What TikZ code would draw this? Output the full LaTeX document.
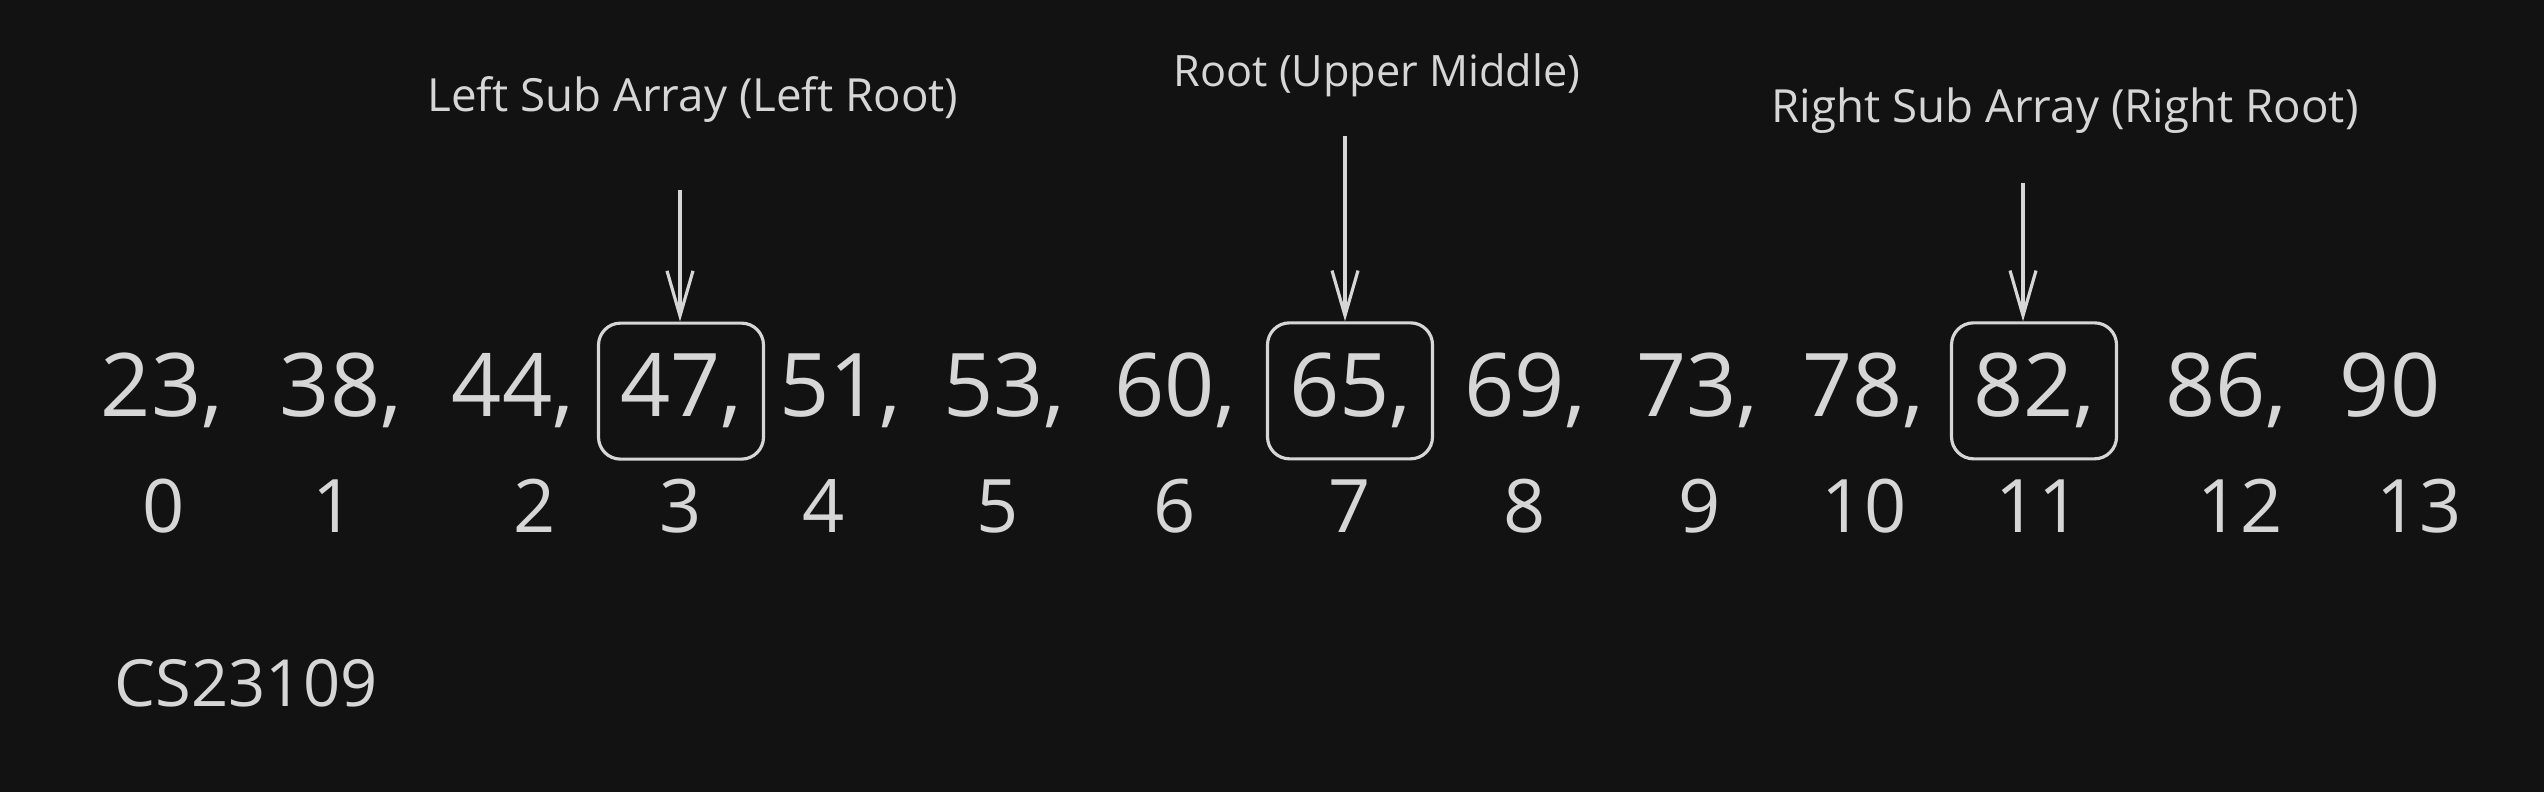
\documentclass[tikz,border=0pt]{standalone}
\usepackage{fontspec}
\setmainfont{Open Sans}
\usetikzlibrary{arrows.meta}

\definecolor{bgcol}{HTML}{121212}
\definecolor{inkcol}{HTML}{D6D6D6}

\begin{document}
\begin{tikzpicture}[
    num/.style={anchor=base,inkcol,font=\fontsize{25}{30}\selectfont},
    idx/.style={anchor=base,inkcol,font=\fontsize{21}{25}\selectfont},
    lbl/.style={anchor=base,inkcol,font=\fontsize{13}{16}\selectfont},
    rootbox/.style={draw=inkcol,line width=0.9pt,rounded corners=0.22cm,minimum width=1.65cm,minimum height=1.36cm},
    pointer/.style={draw=inkcol,line width=0.9pt,-{Straight Barb[length=4.5mm,width=2.6mm]}}]
    \useasboundingbox[fill=bgcol] (0, 0) rectangle (25.44, -7.92);

    % Beschriftungen
    \node[lbl] (lleft) at (6.93, -1.12) {Left Sub Array (Left Root)};
    \node[lbl,font=\fontsize{12.3}{15}\selectfont] (root) at (13.77, -0.87) {Root (Upper Middle)};
    \node[lbl] (rright) at (20.65, -1.23) {Right Sub Array (Right Root)};

    % Werte
    \node[num] (n0) at (1.62, -4.17) {23,};
    \node[num] (n1) at (3.41, -4.17) {38,};
    \node[num] (n2) at (5.13, -4.17) {44,};
    \node[num,rootbox] (n3) at (6.81, -4.17) {47,}; % linke Wurzel
    \node[num] (n4) at (8.40, -4.17) {51,};
    \node[num] (n5) at (10.04, -4.17) {53,};
    \node[num] (n6) at (11.75, -4.17) {60,};
    \node[num,rootbox] (n7) at (13.50, -4.17) {65,}; % Wurzel
    \node[num] (n8) at (15.25, -4.17) {69,};
    \node[num] (n9) at (16.97, -4.17) {73,};
    \node[num] (n10) at (18.63, -4.17) {78,};
    \node[num,rootbox] (n11) at (20.34, -4.17) {82,}; % rechte Wurzel
    \node[num] (n12) at (22.26, -4.17) {86,};
    \node[num] (n13) at (23.90, -4.17) {90};

    % Indizes
    \node[idx] (i0) at (1.64, -5.33) {0};
    \node[idx] (i1) at (3.34, -5.33) {1};
    \node[idx] (i2) at (5.35, -5.33) {2};
    \node[idx] (i3) at (6.81, -5.33) {3};
    \node[idx] (i4) at (8.24, -5.33) {4};
    \node[idx] (i5) at (9.98, -5.33) {5};
    \node[idx] (i6) at (11.75, -5.33) {6};
    \node[idx] (i7) at (13.50, -5.33) {7};
    \node[idx] (i8) at (15.25, -5.33) {8};
    \node[idx] (i9) at (17.00, -5.33) {9};
    \node[idx] (i10) at (18.64, -5.33) {10};
    \node[idx] (i11) at (20.38, -5.33) {11};
    \node[idx] (i12) at (22.40, -5.33) {12};
    \node[idx] (i13) at (24.19, -5.33) {13};

    % Pfeile (senkrecht)
    \coordinate (a3) at (6.80, -1.90);
    \coordinate (a7) at (13.45, -1.36);
    \coordinate (a11) at (20.23, -1.83);
    \draw[pointer] (a3) -- (a3 |- n3.north);
    \draw[pointer] (a7) -- (a7 |- n7.north);
    \draw[pointer] (a11) -- (a11 |- n11.north);

    \node[anchor=base,inkcol,font=\fontsize{18.5}{22}\selectfont] (cs) at (2.46, -7.07) {CS23109};
\end{tikzpicture}
\end{document}
